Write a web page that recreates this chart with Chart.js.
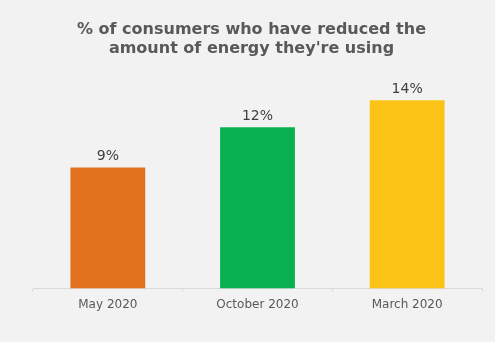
<!DOCTYPE html>
<html>
<head>
<meta charset="utf-8">
<script src="https://cdn.jsdelivr.net/npm/chart.js@4.4.0/dist/chart.umd.min.js"></script>
<style>
  html, body { margin: 0; padding: 0; background: #f2f2f2; }
  #wrap { width: 495px; height: 342px; position: relative; }
</style>
</head>
<body>
<div id="wrap"><canvas id="energyChart"></canvas></div>
<script>
// Survey waves and share of consumers cutting energy use (%)
const periods = ['May 2020', 'October 2020', 'March 2020'];
const reducedShare = [9, 12, 14];
const barColors = ['#e2711d', '#09b04f', '#fbc316'];
const titleLines = ['% of consumers who have reduced the', "amount of energy they're using"];

const FONT = '"DejaVu Sans"';
Chart.defaults.font.family = FONT;

// Value labels above each bar
const valueLabels = {
    id: 'valueLabels',
    afterDatasetsDraw(chart) {
        const ctx = chart.ctx;
        const meta = chart.getDatasetMeta(0);
        ctx.save();
        ctx.font = '14px ' + FONT;
        ctx.fillStyle = '#404040';
        ctx.textAlign = 'center';
        ctx.textBaseline = 'bottom';
        meta.data.forEach((bar, i) => {
            ctx.fillText(reducedShare[i] + '%', bar.x, bar.y - 4);
        });
        ctx.restore();
    }
};

new Chart(document.getElementById('energyChart'), {
    type: 'bar',
    data: {
        labels: periods,
        datasets: [{
            data: reducedShare,
            backgroundColor: barColors,
            borderWidth: 0,
            barPercentage: 0.5,
            categoryPercentage: 1.0
        }]
    },
    options: {
        responsive: true,
        maintainAspectRatio: false,
        animation: false,
        layout: { padding: { top: 10, left: 21, right: 13, bottom: 24 } },
        plugins: {
            legend: { display: false },
            tooltip: { enabled: false },
            title: {
                display: true,
                text: titleLines,
                color: '#595959',
                font: { size: 16, weight: 'bold', lineHeight: 1.2 },
                padding: { top: 10, bottom: 15 }
            }
        },
        scales: {
            x: {
                border: { color: '#d9d9d9' },
                grid: { drawOnChartArea: false, drawTicks: true, tickLength: 3, color: '#d9d9d9' },
                ticks: { color: '#595959', font: { size: 12 }, padding: 6 }
            },
            y: {
                min: 0,
                max: 16,
                border: { display: false },
                grid: { display: false },
                ticks: { display: false },
                // empty gutter left of the bars
                afterFit(scale) { scale.width = 12; }
            }
        }
    },
    plugins: [valueLabels]
});
</script>
</body>
</html>
